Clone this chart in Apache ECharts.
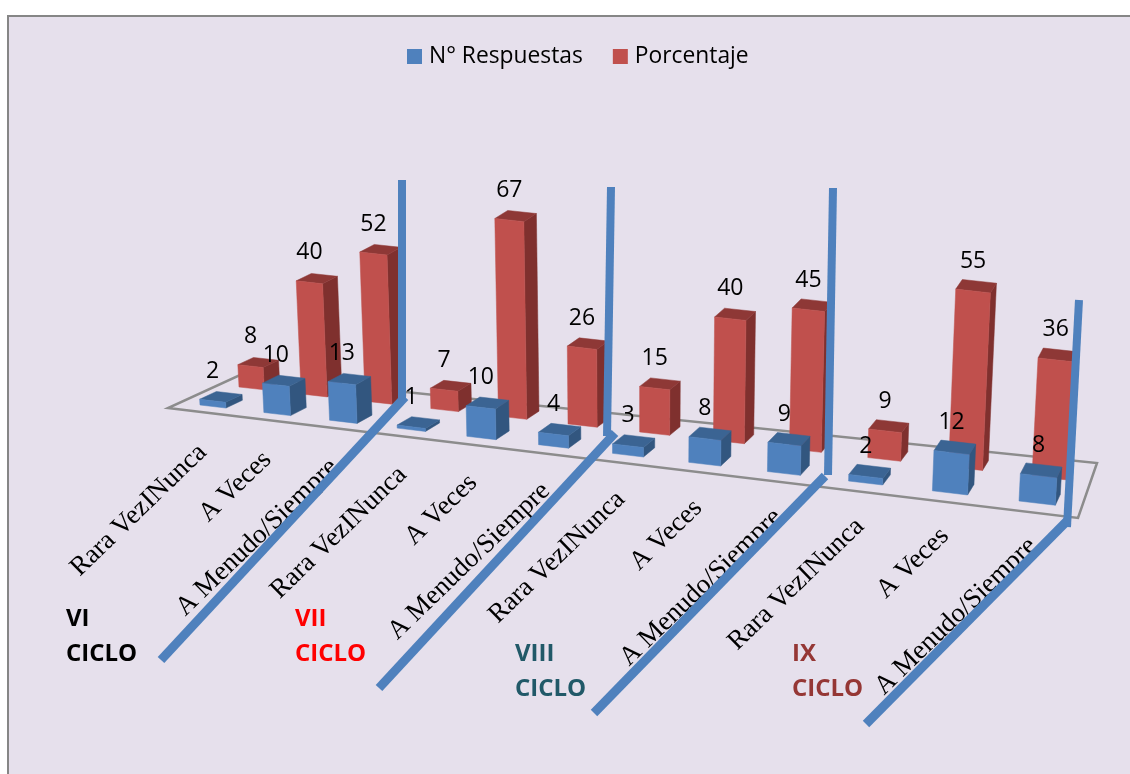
<!DOCTYPE html>
<html><head><meta charset="utf-8">
<style>html,body{margin:0;padding:0;background:#fff}#c{width:1130px;height:774px}</style>
<script src="https://cdn.jsdelivr.net/npm/echarts@6/dist/echarts.min.js"></script>
</head><body><div id="c"></div>
<script>
const categories=['Rara VezINunca','A Veces','A Menudo/Siempre','Rara VezINunca','A Veces','A Menudo/Siempre','Rara VezINunca','A Veces','A Menudo/Siempre','Rara VezINunca','A Veces','A Menudo/Siempre'];
const respuestas=[2,10,13,1,10,4,3,8,9,2,12,8];
const porcentaje=[8,40,52,7,67,26,15,40,45,9,55,36];
const ciclos=['VI','VII','VIII','IX'];

// floor perspective calibration
const Q=[[200,405],[1019,501],[1032,476],[239,387]];
const BW=0.41,DEPTH=0.42,HS=2.88,CONV=1.3e-4,VX=640;
const FONT_NUM='"Open Sans",sans-serif';
const H=(()=>{const [[x0,y0],[x1,y1],[x2,y2],[x3,y3]]=Q;
 const dx1=x1-x2,dy1=y1-y2,dx2=x3-x2,dy2=y3-y2,sx=x0-x1+x2-x3,sy=y0-y1+y2-y3,den=dx1*dy2-dx2*dy1;
 const g=(sx*dy2-dx2*sy)/den,h=(dx1*sy-sx*dy1)/den;
 return {a:x1-x0+g*x1,b:x3-x0+h*x3,c:x0,d:y1-y0+g*y1,e:y3-y0+h*y3,f:y0,g,h};})();
const W=(u,t)=>H.g*(u-0.3)/11+H.h*t+1;
const P=(u,t)=>{const s=(u-0.3)/11,w=W(u,t);return [(H.a*s+H.b*t+H.c)/w,(H.d*s+H.e*t+H.f)/w];};
const up=(p,h)=>[p[0]+(p[0]-VX)*CONV*h,p[1]-h];
const poly=(pts,fill)=>({type:'polygon',shape:{points:pts},style:{fill,stroke:fill,lineWidth:0.5}});

function barRender(t0,cFront,cSide,cTop){return function(params,api){
 const i=api.value(0),val=api.value(1);
 const c=api.coord([i,0]),band=api.size([1,0])[0];
 const uc=c[0]/band, u0=uc-0.2, u1=u0+BW, t1=t0+DEPTH;
 const unit=api.size([0,1])[1];
 const h=api.size([0,val])[1]/unit*HS/W(uc,t0);
 const a=P(u0,t0),b=P(u1,t0),d=P(u1,t1),e=P(u0,t1);
 const A=up(a,h),B=up(b,h),D=up(d,h),E=up(e,h);
 return {type:'group',children:[
  poly([b,d,D,B],cSide),
  poly([A,B,D,E],cTop),
  poly([a,b,B,A],cFront),
  {type:'text',z2:50,x:(A[0]+B[0])/2,y:A[1]-28,style:{text:String(val),align:'center',verticalAlign:'middle',font:'23px '+FONT_NUM,fill:'#000'}}
 ]};
};}
function labelRender(params,api){
 const i=api.value(0),c=api.coord([i,0]),band=api.size([1,0])[0];
 const p=P(c[0]/band,0);
 return {type:'text',x:p[0]-10+i*0.55,y:p[1]+42-i*0.27,rotation:44*Math.PI/180,
  style:{text:categories[i],align:'right',verticalAlign:'middle',font:'27px "Liberation Serif",serif',fill:'#000'}};
}
const wallD=[[[161,660],[405,397]],[[379,688],[615,433]],[[594,713],[825,476]],[[866,724],[1068,520]]];
const wallV=[[[402,180],[402,400]],[[611,187],[607,436]],[[833,188],[828,475]],[[1079,300],[1067,527]]];
const cicloPos=[[66,'#000000',619],[295,'#FF0000',619],[515,'#215968',654],[792,'#953735',654]];
const graphic=[
 {type:'rect',z:0,shape:{x:8,y:16,width:1130,height:770},style:{fill:'#E6E0EC',stroke:'#868686',lineWidth:2}},
 {type:'polygon',z:1,shape:{points:[[168,408],[1078,518],[1097,463],[240,375]]},style:{fill:'#E6E0EC',stroke:'#8C8C8C',lineWidth:2.5}}
];
wallD.forEach(l=>graphic.push({type:'line',z:20,shape:{x1:l[0][0],y1:l[0][1],x2:l[1][0],y2:l[1][1]},style:{stroke:'#4F81BD',lineWidth:9}}));
wallV.forEach(l=>graphic.push({type:'line',z:20,shape:{x1:l[0][0],y1:l[0][1],x2:l[1][0],y2:l[1][1]},style:{stroke:'#4F81BD',lineWidth:8}}));
ciclos.forEach((n,k)=>{const [x,col,y]=cicloPos[k];
 graphic.push({type:'text',z:21,x,y,style:{text:n,font:'bold 24px '+FONT_NUM,fill:col,verticalAlign:'middle'}});
 graphic.push({type:'text',z:21,x,y:y+35,style:{text:'CICLO',font:'bold 24px '+FONT_NUM,fill:col,verticalAlign:'middle'}});
});
const chart=echarts.init(document.getElementById('c'));
chart.setOption({
 animation:false,
 legend:{data:['N° Respuestas','Porcentaje'],left:407,top:45,padding:0,itemWidth:15,itemHeight:15,itemGap:30,icon:'rect',
  textStyle:{fontFamily:'Open Sans',fontSize:22.8,color:'#000',padding:[0,0,0,2]}},
 grid:{left:0,right:0,top:0,bottom:0},
 xAxis:{type:'category',data:categories,show:false},
 yAxis:{type:'value',min:0,max:70,show:false},
 graphic,
 series:[
  {name:'Etiquetas',type:'custom',z:3,silent:true,encode:{x:0,y:1},data:categories.map((c,i)=>[i,0]),renderItem:labelRender},
  {name:'Porcentaje',type:'custom',z:4,silent:true,encode:{x:0,y:1},itemStyle:{color:'#C0504D'},data:porcentaje.map((v,i)=>[i,v]),renderItem:barRender(1,'#C0504D','#7F302E','#8E3836')},
  {name:'N° Respuestas',type:'custom',z:5,silent:true,encode:{x:0,y:1},itemStyle:{color:'#4F81BD'},data:respuestas.map((v,i)=>[i,v]),renderItem:barRender(0,'#4F81BD','#32567F','#3B6493')}
 ]
});
</script></body></html>
